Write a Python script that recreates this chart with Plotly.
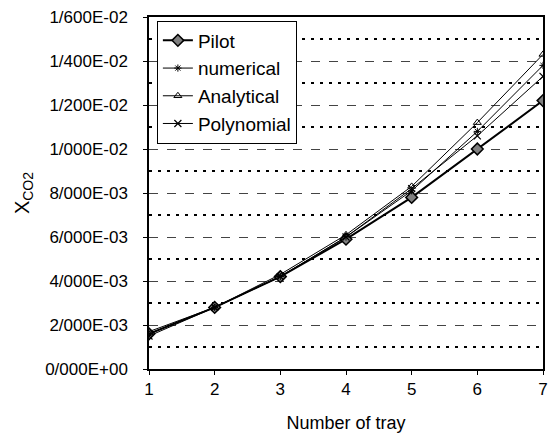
import plotly.graph_objects as go

# Tray number along the column
trays = [1, 2, 3, 4, 5, 6, 7]

# CO2 mole fraction per tray for each method
pilot = [0.0016, 0.0028, 0.0042, 0.0059, 0.0078, 0.0100, 0.0122]
numerical = [0.0016, 0.0028, 0.0042, 0.0060, 0.0081, 0.0108, 0.0138]
analytical = [0.0017, 0.0028, 0.0043, 0.0061, 0.0083, 0.0112, 0.0143]
polynomial = [0.0015, 0.0028, 0.0042, 0.0060, 0.0082, 0.0106, 0.0133]

# Y tick positions and their labels (slash used as decimal separator)
y_tick_vals = [0.0, 0.002, 0.004, 0.006, 0.008, 0.010, 0.012, 0.014, 0.016]
y_tick_text = ["0/000E+00", "2/000E-03", "4/000E-03", "6/000E-03", "8/000E-03",
               "1/000E-02", "1/200E-02", "1/400E-02", "1/600E-02"]
# Intermediate (minor) gridline positions
y_minor_vals = [0.001, 0.003, 0.005, 0.007, 0.009, 0.011, 0.013, 0.015]

FONT = "Liberation Sans, Arial, sans-serif"

fig = go.Figure()

fig.add_trace(go.Scatter(
    x=trays, y=pilot, name="Pilot", mode="lines+markers",
    line=dict(color="black", width=2),
    marker=dict(symbol="diamond", size=9, color="#808080",
                line=dict(color="black", width=1.5)),
))
fig.add_trace(go.Scatter(
    x=trays, y=numerical, name="numerical", mode="lines+markers",
    line=dict(color="black", width=1),
    marker=dict(symbol="asterisk-open", size=6, color="black",
                line=dict(color="black", width=1)),
))
fig.add_trace(go.Scatter(
    x=trays, y=analytical, name="Analytical", mode="lines+markers",
    line=dict(color="black", width=1),
    marker=dict(symbol="triangle-up-open", size=7, color="black",
                line=dict(color="black", width=1)),
))
fig.add_trace(go.Scatter(
    x=trays, y=polynomial, name="Polynomial", mode="lines+markers",
    line=dict(color="black", width=1),
    marker=dict(symbol="x-thin-open", size=7, color="black",
                line=dict(color="black", width=1.2)),
))

fig.update_layout(
    width=555, height=438,
    margin=dict(l=149, r=7, t=17, b=69),
    paper_bgcolor="white", plot_bgcolor="white",
    font=dict(family=FONT, color="black", size=17),
    showlegend=True,
    legend=dict(
        x=0.02, y=0.99, xanchor="left", yanchor="top",
        bgcolor="white", bordercolor="black", borderwidth=1,
        font=dict(family=FONT, size=19, color="black"),
        tracegroupgap=0,
    ),
    xaxis=dict(
        range=[1, 7], tickmode="array", tickvals=trays,
        showgrid=False, zeroline=False,
        showline=True, linecolor="black", linewidth=1.5, mirror=True,
        ticks="outside", ticklen=4, tickcolor="black",
        tickfont=dict(size=17),
        title=dict(text="Number of tray", font=dict(size=18), standoff=18),
    ),
    yaxis=dict(
        range=[0, 0.016], tickmode="array",
        tickvals=y_tick_vals, ticktext=y_tick_text,
        showgrid=True, gridcolor="#444444", gridwidth=1, griddash="dash",
        zeroline=False,
        showline=True, linecolor="black", linewidth=1.5, mirror=True,
        ticks="outside", ticklen=4, tickcolor="black",
        ticklabelstandoff=12,
        tickfont=dict(size=17),
        minor=dict(tickmode="array", tickvals=y_minor_vals,
                   showgrid=True, gridcolor="black", gridwidth=2,
                   griddash="3px,6px", ticks="inside", ticklen=3,
                   tickcolor="black"),
        title=dict(text="X<sub>CO2</sub>", font=dict(size=20), standoff=10),
    ),
)

fig.write_html("out.html")
